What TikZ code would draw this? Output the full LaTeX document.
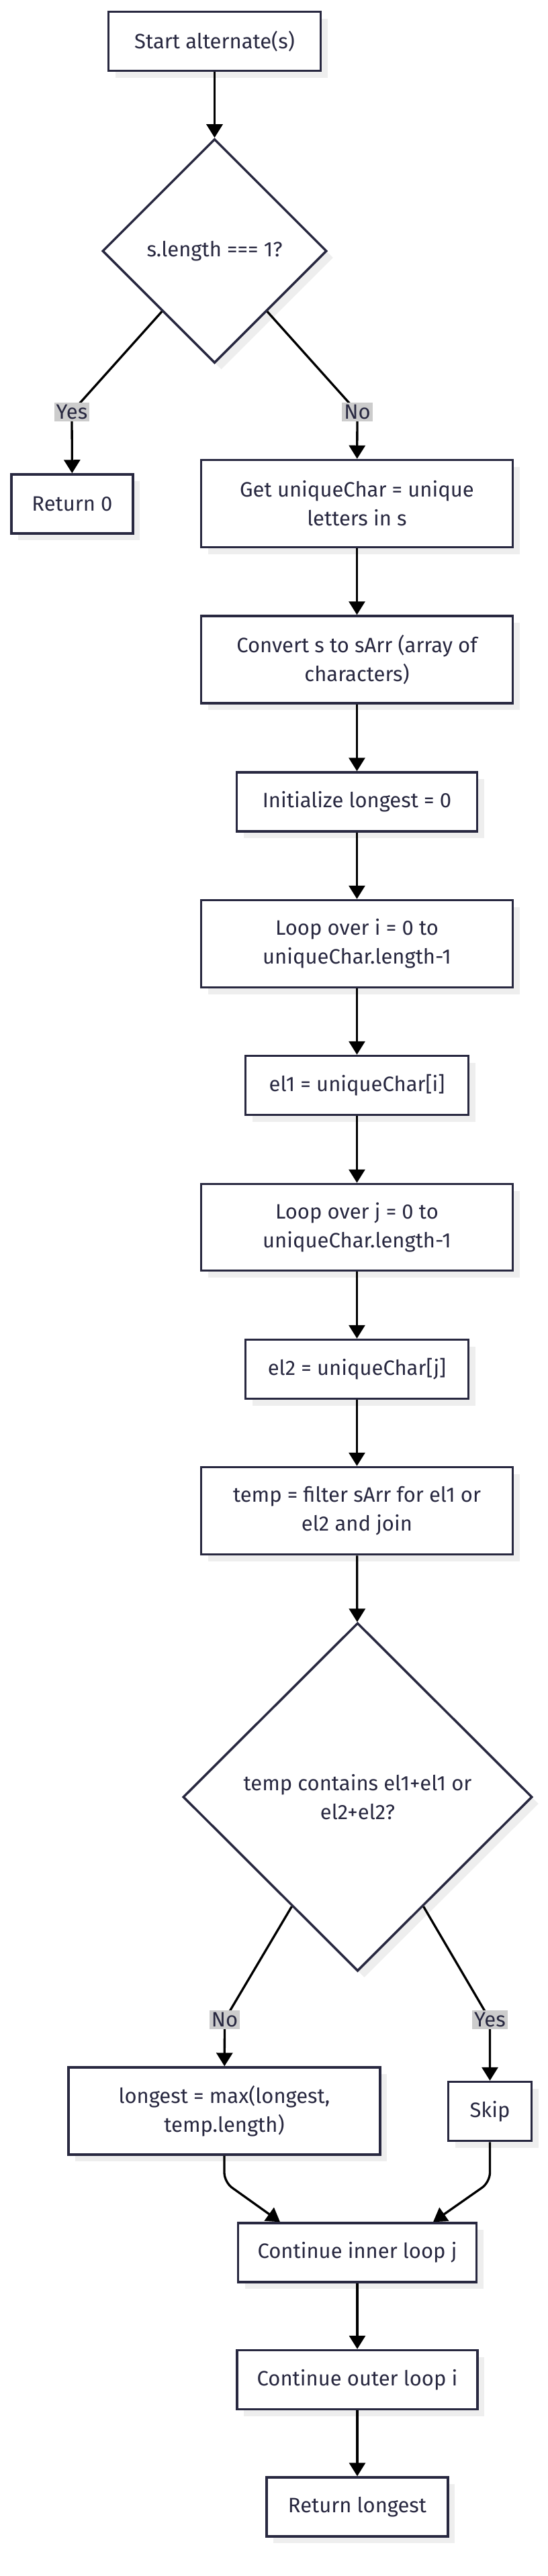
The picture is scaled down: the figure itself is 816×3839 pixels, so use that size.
\documentclass[tikz,border=0pt]{standalone}
\usepackage{fontspec}
\setmainfont{Fira Sans}
\usetikzlibrary{shapes.geometric,arrows.meta,shadows,calc}
\definecolor{ink}{RGB}{40,40,64}
\definecolor{shade}{RGB}{238,238,238}
\definecolor{tag}{RGB}{204,204,204}
\tikzset{
  box/.style={draw=ink,line width=3.5pt,fill=white,text=ink,inner sep=0pt,align=center,
    font=\fontsize{31}{43}\selectfont,
    drop shadow={shadow xshift=10pt,shadow yshift=-10pt,fill=shade,opacity=1}},
  dec/.style={box,diamond},
  lbl/.style={fill=tag,text=ink,inner sep=3pt,font=\fontsize{31}{34}\selectfont},
  arr/.style={->,line width=3.3pt,black}
}
\begin{document}
\begin{tikzpicture}[x=1pt,y=-1pt,>={Triangle[length=20pt,width=24pt]}]
\useasboundingbox (0,0) rectangle (816,3839);
% top part
\node[box,minimum width=316pt,minimum height=88pt] (start) at (319.5,61.5) {Start alternate(s)};
\node[dec,minimum width=334pt,minimum height=334pt] (d1) at (319.5,374) {s.length === 1?};
\node[box,minimum width=181pt,minimum height=88pt] (ret0) at (107.5,751) {Return 0};
\node[box,minimum width=464pt,minimum height=130pt] (gu) at (531.5,750.5) {Get uniqueChar = unique\\letters in s};
\node[box,minimum width=464pt,minimum height=130pt] (conv) at (531.5,983) {Convert s to sArr (array of\\characters)};
\node[box,minimum width=358pt,minimum height=88pt] (init) at (531.5,1195) {Initialize longest = 0};
\node[box,minimum width=464pt,minimum height=130pt] (loopi) at (531.5,1406.5) {Loop over i = 0 to\\uniqueChar.length-1};
\node[box,minimum width=332pt,minimum height=88pt] (el1) at (531.5,1617.5) {el1 = uniqueChar[i]};
\node[box,minimum width=464pt,minimum height=129pt] (loopj) at (531.5,1829) {Loop over j = 0 to\\uniqueChar.length-1};
\node[box,minimum width=332pt,minimum height=88pt] (el2) at (531.5,2040.5) {el2 = uniqueChar[j]};
\node[box,minimum width=464pt,minimum height=130pt] (temp) at (531.5,2251.5) {temp = filter sArr for el1 or\\el2 and join};
% inner test
\node[dec,minimum width=520pt,minimum height=519pt] (d2) at (532.5,2678) {temp contains el1+el1 or\\el2+el2?};
\node[box,minimum width=464pt,minimum height=130pt] (long) at (334,3146) {longest = max(longest,\\temp.length)};
\node[box,minimum width=124pt,minimum height=88pt] (skip) at (729.5,3146.5) {Skip};
\node[box,minimum width=355pt,minimum height=88pt] (cinner) at (532,3357) {Continue inner loop j};
\node[box,minimum width=358pt,minimum height=88pt] (couter) at (532,3546.5) {Continue outer loop i};
\node[box,minimum width=270pt,minimum height=88pt] (retl) at (532,3736) {Return longest};
\coordinate (ya) at (107,614);
\coordinate (na) at (532,614);
\coordinate (nb) at (334.5,3010);
\coordinate (yb) at (729.5,3010);
\coordinate (k1) at (334,3252);
\coordinate (k2) at (729.5,3252);
\draw[arr] (start) -- (d1);
\draw[arr] (d1.-131) -- (ya) -- (ret0);
\draw[arr] (d1.-49) -- (na) -- (gu);
\draw[arr] (gu) -- (conv);
\draw[arr] (conv) -- (init);
\draw[arr] (init) -- (loopi);
\draw[arr] (loopi) -- (el1);
\draw[arr] (el1) -- (loopj);
\draw[arr] (loopj) -- (el2);
\draw[arr] (el2) -- (temp);
\draw[arr] (temp) -- (d2);
\draw[arr] (d2.-121) -- (nb) -- (long);
\draw[arr] (d2.-59) -- (yb) -- (skip);
\draw[arr,rounded corners=14pt] (long) -- (k1) -- ($(cinner.north)+(-115,0)$);
\draw[arr,rounded corners=14pt] (skip) -- (k2) -- ($(cinner.north)+(113,0)$);
\draw[arr] (cinner) -- (couter);
\draw[arr] (couter) -- (retl);
% edge labels
\node[lbl] (yes1) at (ya) {Yes};
\node[lbl] (no1) at (na) {No};
\node[lbl] (no2) at (nb) {No};
\node[lbl] (yes2) at (yb) {Yes};
\end{tikzpicture}
\end{document}
